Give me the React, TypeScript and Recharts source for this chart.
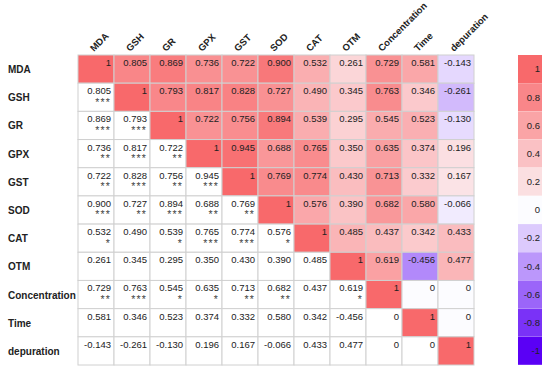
import React from 'react';
import { ScatterChart, Scatter, XAxis, YAxis, BarChart, Bar, Cell, LabelList } from 'recharts';

const labels = ['MDA', 'GSH', 'GR', 'GPX', 'GST', 'SOD', 'CAT', 'OTM', 'Concentration', 'Time', 'depuration'];

const rMDA = [1, 0.805, 0.869, 0.736, 0.722, 0.9, 0.532, 0.261, 0.729, 0.581, -0.143];
const rGSH = [0.805, 1, 0.793, 0.817, 0.828, 0.727, 0.49, 0.345, 0.763, 0.346, -0.261];
const rGR = [0.869, 0.793, 1, 0.722, 0.756, 0.894, 0.539, 0.295, 0.545, 0.523, -0.13];
const rGPX = [0.736, 0.817, 0.722, 1, 0.945, 0.688, 0.765, 0.35, 0.635, 0.374, 0.196];
const rGST = [0.722, 0.828, 0.756, 0.945, 1, 0.769, 0.774, 0.43, 0.713, 0.332, 0.167];
const rSOD = [0.9, 0.727, 0.894, 0.688, 0.769, 1, 0.576, 0.39, 0.682, 0.58, -0.066];
const rCAT = [0.532, 0.49, 0.539, 0.765, 0.774, 0.576, 1, 0.485, 0.437, 0.342, 0.433];
const rOTM = [0.261, 0.345, 0.295, 0.35, 0.43, 0.39, 0.485, 1, 0.619, -0.456, 0.477];
const rConc = [0.729, 0.763, 0.545, 0.635, 0.713, 0.682, 0.437, 0.619, 1, 0, 0];
const rTime = [0.581, 0.346, 0.523, 0.374, 0.332, 0.58, 0.342, -0.456, 0, 1, 0];
const rDep = [-0.143, -0.261, -0.13, 0.196, 0.167, -0.066, 0.433, 0.477, 0, 0, 1];

const sMDA: string[] = [];
const sGSH = ['***'];
const sGR = ['***', '***'];
const sGPX = ['**', '***', '**'];
const sGST = ['**', '***', '**', '***'];
const sSOD = ['***', '**', '***', '**', '**'];
const sCAT = ['*', '', '*', '***', '***', '*'];
const sOTM: string[] = [];
const sConc = ['**', '***', '*', '*', '**', '**', '', '*'];
const sTime: string[] = [];
const sDep: string[] = [];

const legendValues = [1, 0.8, 0.6, 0.4, 0.2, 0, -0.2, -0.4, -0.6, -0.8, -1];

const matrix = [rMDA, rGSH, rGR, rGPX, rGST, rSOD, rCAT, rOTM, rConc, rTime, rDep];
const starRows = [sMDA, sGSH, sGR, sGPX, sGST, sSOD, sCAT, sOTM, sConc, sTime, sDep];

const cells = matrix.flatMap((row, r) =>
  row.map((v, c) => ({ r, c, v, s: starRows[r][c] || '' }))
);

const legendData = legendValues.map((v) => ({ v, label: String(v), w: 1 }));

const WHITE = [252, 252, 255];
const HI = [248, 105, 107];
const LO = [90, 0, 245];
const lerp = (a: number, b: number, t: number) => Math.round(a + (b - a) * t);
function colorFor(v: number) {
  const c = v >= 0 ? HI : LO;
  const t = Math.min(1, Math.abs(v));
  return `rgb(${lerp(WHITE[0], c[0], t)},${lerp(WHITE[1], c[1], t)},${lerp(WHITE[2], c[2], t)})`;
}
const fmt = (v: number) => (v === 1 ? '1' : v === 0 ? '0' : v.toFixed(3));

const FONT = '"Liberation Sans", Arial, sans-serif';
const W = 550;
const H = 374;
const M = { top: 0, right: 76, left: 0, bottom: 9 };
const YW = 78;
const XH = 55;
const CW = (W - M.right - M.left - YW) / labels.length;
const CH = (H - M.top - M.bottom - XH) / labels.length;

const CellShape = (props: any) => {
  const { cx, cy, payload } = props;
  const x0 = cx - CW / 2;
  const y0 = cy - CH / 2;
  const fill = payload.c >= payload.r ? colorFor(payload.v) : '#ffffff';
  return (
    <g>
      <rect x={x0} y={y0} width={CW} height={CH} fill={fill} stroke="#d0d0d0" strokeWidth={1} />
      <text x={x0 + CW - 3} y={y0 + 11} textAnchor="end" fontSize={9.5} fontFamily={FONT} fill="#222">
        {fmt(payload.v)}
      </text>
      {payload.s ? (
        <text x={x0 + CW - 3} y={y0 + 22.5} textAnchor="end" fontSize={10.5} fontFamily={FONT} fill="#444" letterSpacing={1.2}>
          {payload.s}
        </text>
      ) : null}
    </g>
  );
};

const RowTick = (props: any) => {
  const { x, y, payload } = props;
  return (
    <text x={x - YW + 8} y={y + 4} textAnchor="start" fontSize={10} fontWeight="bold" fontFamily={FONT} fill="#222">
      {labels[payload.value]}
    </text>
  );
};

const ColTick = (props: any) => {
  const { x, y, payload } = props;
  const tx = x - 2;
  const ty = y - 3;
  return (
    <text
      x={tx}
      y={ty}
      textAnchor="start"
      fontSize={9.5}
      fontWeight="bold"
      fontFamily={FONT}
      fill="#222"
      transform={`rotate(-45, ${tx}, ${ty})`}
    >
      {labels[payload.value]}
    </text>
  );
};

const idx = labels.map((_, i) => i);

export default function App() {
  return (
    <div style={{ position: 'absolute', left: 0, top: 0, width: W, height: H, background: '#fff' }}>
      <ScatterChart width={W} height={H} margin={M}>
        <XAxis
          type="number"
          dataKey="c"
          orientation="top"
          domain={[-0.5, labels.length - 0.5]}
          ticks={idx}
          interval={0}
          height={XH}
          tickLine={false}
          axisLine={false}
          tickSize={0}
          tickMargin={0}
          tick={<ColTick />}
        />
        <YAxis
          type="number"
          dataKey="r"
          reversed
          domain={[-0.5, labels.length - 0.5]}
          ticks={idx}
          interval={0}
          width={YW}
          tickLine={false}
          axisLine={false}
          tickSize={0}
          tickMargin={0}
          tick={<RowTick />}
        />
        <Scatter data={cells} shape={<CellShape />} isAnimationActive={false} />
      </ScatterChart>
      <div style={{ position: 'absolute', left: 518, top: XH, width: 24, height: H - XH - M.bottom }}>
        <BarChart
          width={24}
          height={H - XH - M.bottom}
          data={legendData}
          layout="vertical"
          margin={{ top: 0, right: 0, left: 0, bottom: 0 }}
          barCategoryGap={0}
        >
          <XAxis type="number" hide domain={[0, 1]} />
          <YAxis type="category" dataKey="label" hide />
          <Bar dataKey="w" isAnimationActive={false}>
            {legendData.map((d, i) => (
              <Cell key={i} fill={colorFor(d.v)} />
            ))}
            <LabelList dataKey="label" position="insideRight" offset={2} fontSize={9.5} fontFamily={FONT} fill="#222" />
          </Bar>
        </BarChart>
      </div>
    </div>
  );
}
